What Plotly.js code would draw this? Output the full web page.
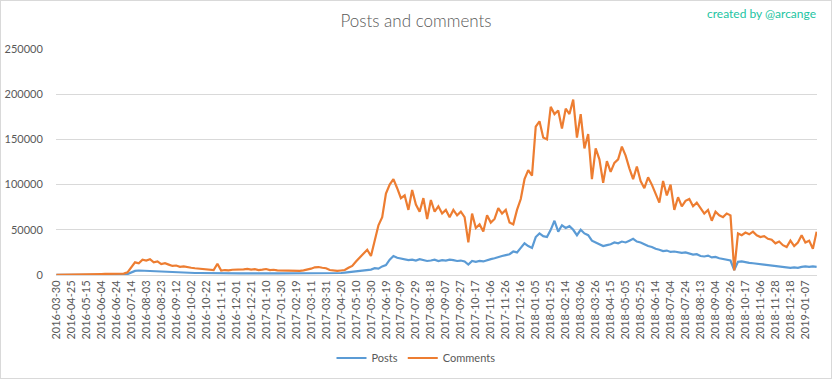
<!DOCTYPE html>
<html>
<head>
<meta charset="utf-8">
<script src="https://cdn.plot.ly/plotly-3.0.1.min.js"></script>
<style>
  html, body { margin: 0; padding: 0; background: #ffffff; }
  #wrap { position: relative; width: 832px; height: 379px; }
  #chart { width: 832px; height: 379px; }
  #frame { position: absolute; left: 0; top: 0; width: 832px; height: 379px; box-sizing: border-box; border: 1px solid #d9d9d9; pointer-events: none; }
</style>
</head>
<body>
<div id="wrap"><div id="chart"></div><div id="frame"></div></div>
<script>
// Tick labels (one every 20 data points on a category-style axis)
const dateLabels = [
  "2016-03-30","2016-04-25","2016-05-15","2016-06-04","2016-06-24","2016-07-14","2016-08-03","2016-08-23",
  "2016-09-12","2016-10-02","2016-10-22","2016-11-11","2016-12-01","2016-12-21","2017-01-10","2017-01-30",
  "2017-02-19","2017-03-11","2017-03-31","2017-04-20","2017-05-10","2017-05-30","2017-06-19","2017-07-09",
  "2017-07-29","2017-08-18","2017-09-07","2017-09-27","2017-10-17","2017-11-06","2017-11-26","2017-12-16",
  "2018-01-05","2018-01-25","2018-02-14","2018-03-06","2018-03-26","2018-04-15","2018-05-05","2018-05-25",
  "2018-06-14","2018-07-04","2018-07-24","2018-08-13","2018-09-04","2018-09-26","2018-10-17","2018-11-06",
  "2018-11-28","2018-12-18","2019-01-07"
];
const pointsPerLabel = 20;
const sampleStep = 5;      // one value read every 5 data points
const totalPoints = 1016;

// Posts (sampled every 5 data points)
const posts = [
  100,100,100,120,120,150,150,200,200,200, 250,250,250,300,300,300,300,300,400,1000,
  3000,4500,5000,4800,4200,4000,3800,3500,3300,3200, 3000,2800,2800,2600,2500,2400,2300,2200,2200,2100,
  2000,2000,1900,2000,1800,1900,1800,2000,1900,1800, 1900,2000,1800,1900,1800,1900,2000,1800,1900,1800,
  1800,1900,1800,1700,1800,1700,1800,1900,2000,2200, 2300,2200,2100,1900,1800,1900,2200,2600,3000,3500,
  4000,4800,5000,5500,6000,7500,7000,9500,11000,17000, 21000,19000,18000,17500,16500,17000,16000,17500,16500,15500,
  16000,17000,15500,16500,16000,17000,16500,15500,16000,15000, 11500,15500,14500,15500,15000,16500,17500,18500,20000,21000,
  22000,23000,26000,25000,30000,35000,32000,30000,42000,46000, 43000,42000,50000,60000,48000,55000,52000,54000,50000,44000,
  50000,46000,44000,38000,36000,34000,32000,33000,34000,36000, 35000,37000,36000,38000,40000,37000,36000,34000,32000,31000,
  29000,28000,26500,27000,25500,26000,25000,24500,25000,24000, 22500,23000,21000,20500,21500,19500,20000,18500,17500,17000,
  16000,5500,14500,15000,14000,13500,13000,12500,12000,11500, 11000,10500,10000,9500,9000,8500,8000,8500,8000,9000,
  9500,9000,9500,9000
];

// Comments (sampled every 5 data points)
const comments = [
  300,300,350,400,400,450,600,900,800,1000, 1100,1000,1100,1200,1100,1200,1300,1200,1500,3000,
  8000,14000,13000,17000,16000,17500,14000,15000,12000,13000, 11500,10000,10500,9000,9500,8500,8000,7500,7000,7200,
  6500,6000,5500,12500,5000,5500,5200,5800,6000,5500, 6200,6800,6000,6500,5500,6000,6600,5500,5800,5200,
  5000,5500,5300,4800,5000,4500,5200,6000,7000,8500, 8800,8000,7500,5500,4800,4500,5000,5500,8000,10000,
  15000,19000,23000,28000,21000,38000,55000,64000,90000,100000, 106000,96000,85000,88000,72000,94000,78000,70000,85000,62000,
  83000,70000,76000,68000,72000,64000,72000,66000,70000,64000, 36000,68000,52000,56000,48000,66000,58000,62000,74000,68000,
  72000,58000,56000,72000,84000,106000,116000,110000,164000,170000, 152000,150000,186000,178000,182000,162000,184000,178000,194000,152000,
  178000,140000,156000,106000,140000,128000,102000,126000,114000,124000, 128000,142000,132000,118000,106000,120000,104000,96000,108000,100000,
  90000,80000,104000,88000,100000,72000,86000,76000,82000,84000, 76000,80000,74000,68000,72000,60000,70000,66000,64000,68000,
  66000,5000,46000,44000,47000,45000,48000,44000,42000,43000, 40000,39000,35000,37000,33000,31000,38000,32000,36000,44000,
  36000,38000,29000,48000
];

const xs = posts.map((_, i) => i * sampleStep);
const tickVals = dateLabels.map((_, i) => i * pointsPerLabel);

const FONT = "Lato, 'Open Sans', 'DejaVu Sans', sans-serif";
const GREY = "#595959";

const traces = [
  { x: xs, y: posts, type: "scatter", mode: "lines", name: "Posts",
    line: { color: "#5b9bd5", width: 2.2 }, hoverinfo: "skip" },
  { x: xs, y: comments, type: "scatter", mode: "lines", name: "Comments",
    line: { color: "#ed7d31", width: 2.2 }, hoverinfo: "skip" }
];

const layout = {
  width: 832, height: 379,
  margin: { l: 56, r: 15, t: 49, b: 104, autoexpand: false },
  paper_bgcolor: "#ffffff", plot_bgcolor: "#ffffff",
  font: { family: FONT, color: GREY, size: 11 },
  title: { text: "Posts and comments", font: { family: FONT, size: 17, color: GREY, weight: 300 },
           x: 0.5, xanchor: "center", xref: "container", y: 1 - 21 / 379, yref: "container", yanchor: "middle" },
  showlegend: true,
  legend: { orientation: "h", x: 0.5, xanchor: "center", xref: "container",
            y: 1 - 358 / 379, yref: "container", yanchor: "middle",
            font: { family: FONT, size: 11, color: GREY }, itemwidth: 30, tracegroupgap: 0 },
  xaxis: {
    range: [-0.5, totalPoints - 0.5], showgrid: false, zeroline: false,
    showline: true, linecolor: "#d9d9d9", linewidth: 1, automargin: false,
    tickmode: "array", tickvals: tickVals, ticktext: dateLabels,
    tickangle: -90, ticks: "", tickfont: { family: FONT, size: 11, color: GREY },
    fixedrange: true
  },
  yaxis: {
    range: [0, 250000], dtick: 50000, tick0: 0, tickformat: "d", automargin: false,
    showgrid: true, gridcolor: "#d9d9d9", gridwidth: 1, zeroline: false, showline: false,
    ticks: "outside", ticklen: 10, tickcolor: "rgba(0,0,0,0)",
    tickfont: { family: FONT, size: 11, color: GREY }, fixedrange: true
  },
  annotations: [{
    text: "created by @arcange", xref: "paper", yref: "paper",
    x: 1.001, xanchor: "right", y: 1.155, yanchor: "middle", showarrow: false,
    font: { family: FONT, size: 12, color: "#22c4a2" }
  }]
};

Plotly.newPlot("chart", traces, layout, { displayModeBar: false, staticPlot: true });
</script>
</body>
</html>
